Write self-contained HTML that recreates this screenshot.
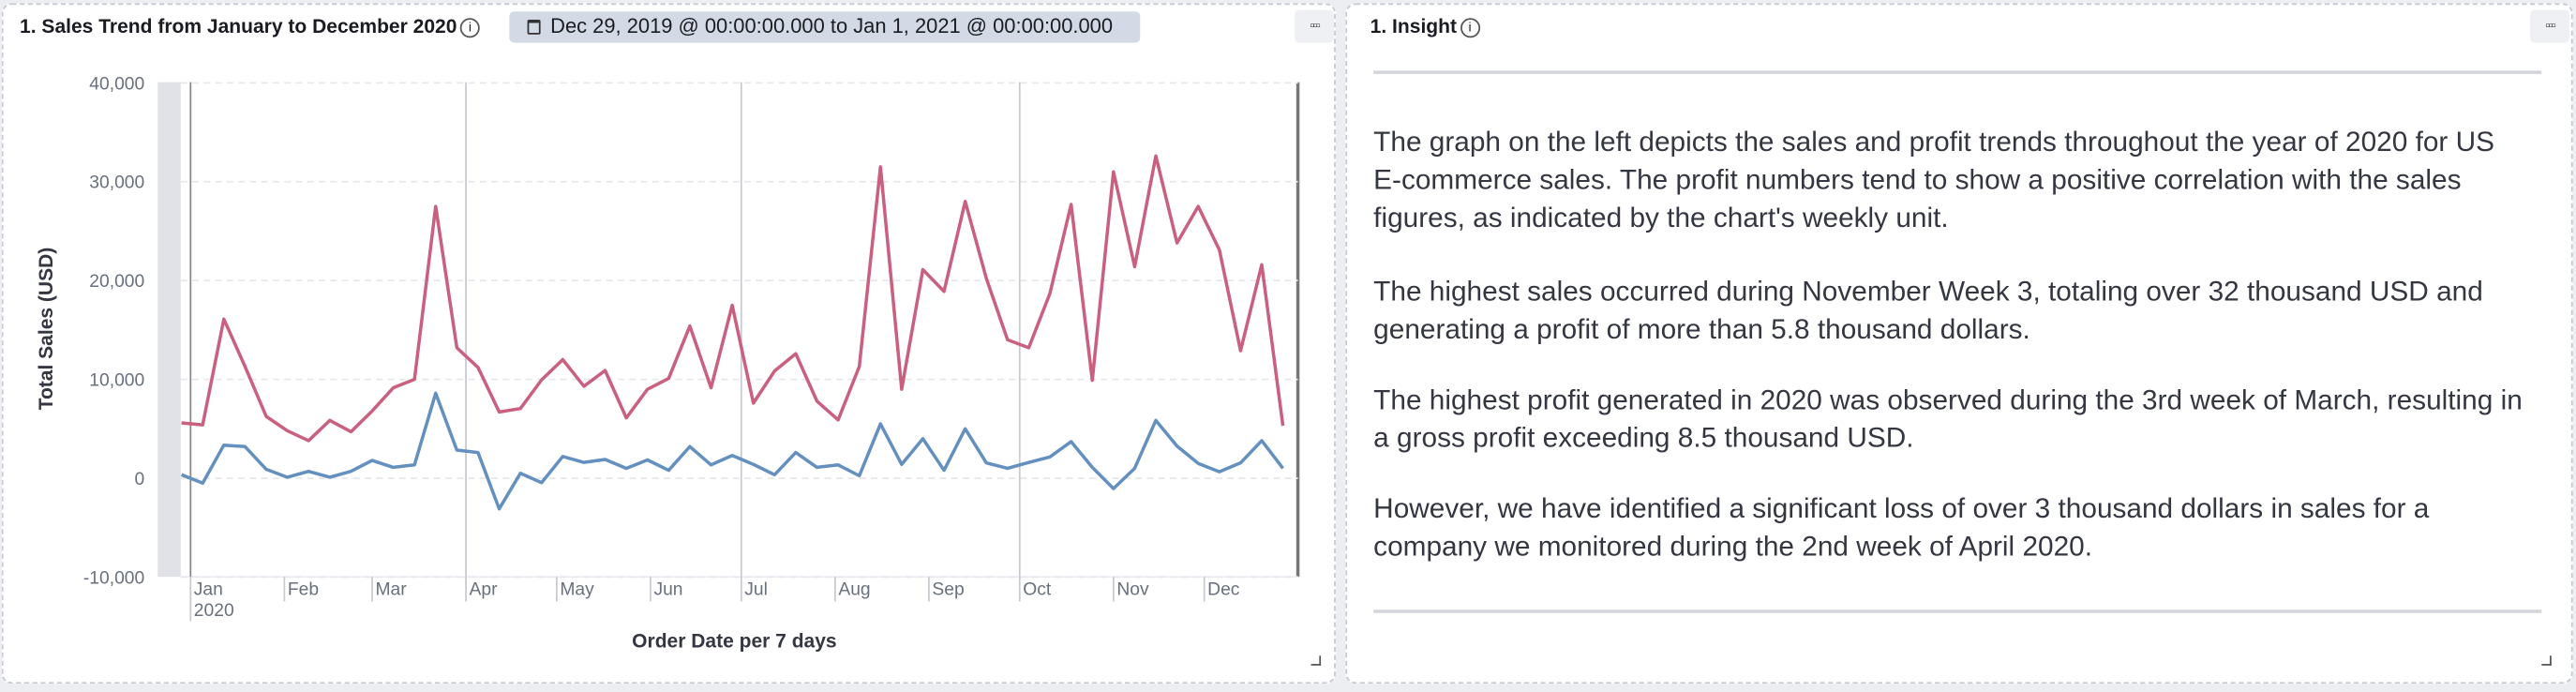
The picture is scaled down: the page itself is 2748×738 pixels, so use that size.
<!DOCTYPE html>
<html><head><meta charset="utf-8">
<style>
html,body{margin:0;padding:0;width:2748px;height:737px;overflow:hidden;background:#eceef2;}
#wrap{position:absolute;left:0;top:0;width:1568px;height:421px;transform:scale(1.7526);transform-origin:0 0;font-family:"Liberation Sans",sans-serif;}
.panel{position:absolute;background:#fff;border:1px dashed #c4c8d0;border-radius:6px;box-sizing:border-box;}
.title{position:absolute;font-weight:bold;font-size:12px;color:#1a1c21;white-space:nowrap;}
.info{display:inline-block;width:10px;height:10px;border:1px solid #555;border-radius:50%;font-size:8px;line-height:10px;text-align:center;font-weight:normal;margin-left:2px;vertical-align:1px;}
.menu{position:absolute;width:24px;height:20px;background:#eef0f3;border-radius:3px;font-size:8px;color:#333;text-align:center;line-height:20px;letter-spacing:-1px;}
.txt{position:absolute;left:16px;font-size:17px;color:#343741;line-height:23px;white-space:nowrap;}
.rule{position:absolute;left:16px;width:711px;height:2px;background:#d3d5da;}
.corner{position:absolute;width:5px;height:5px;border-right:1.5px solid #555;border-bottom:1.5px solid #555;}
.cal{display:inline-block;width:8px;height:9px;border:1px solid #333;border-top-width:2px;border-radius:1px;vertical-align:-1px;margin-right:6px;box-sizing:border-box;}
</style></head><body>
<div id="wrap">
<div class="panel" style="left:1px;top:2px;width:812px;height:414px;">
  <div class="title" style="left:10px;top:6px;">1. Sales Trend from January to December 2020<span class="info">i</span></div>
  <div style="position:absolute;left:308px;top:4px;width:384px;height:19px;background:#d3dae6;border-radius:3px;font-size:12.5px;line-height:19px;color:#1a1c21;white-space:nowrap;padding-left:11px;box-sizing:border-box;"><span class="cal"></span>Dec 29, 2019 @ 00:00:00.000 to Jan 1, 2021 @ 00:00:00.000</div>
  <div class="menu" style="left:786px;top:3px;">&#9643;&#9643;&#9643;</div>
  <div class="corner" style="left:796px;top:396px;"></div>
</div>
<div class="panel" style="left:819px;top:2px;width:747px;height:414px;">
  <div class="title" style="left:14px;top:6px;">1. Insight<span class="info">i</span></div>
  <div class="menu" style="left:720px;top:3px;">&#9643;&#9643;&#9643;</div>
  <div class="rule" style="top:40px;"></div>
  <div class="txt" style="top:72px;">The graph on the left depicts the sales and profit trends throughout the year of 2020 for US<br>E-commerce sales. The profit numbers tend to show a positive correlation with the sales<br>figures, as indicated by the chart's weekly unit.</div>
  <div class="txt" style="top:163px;">The highest sales occurred during November Week 3, totaling over 32 thousand USD and<br>generating a profit of more than 5.8 thousand dollars.</div>
  <div class="txt" style="top:229px;">The highest profit generated in 2020 was observed during the 3rd week of March, resulting in<br>a gross profit exceeding 8.5 thousand USD.</div>
  <div class="txt" style="top:295px;">However, we have identified a significant loss of over 3 thousand dollars in sales for a<br>company we monitored during the 2nd week of April 2020.</div>
  <div class="rule" style="top:368px;"></div>
  <div class="corner" style="left:727px;top:396px;"></div>
</div>
<svg id="chart" width="812" height="421" style="position:absolute;left:0;top:0;"></svg>
</div>
<script>
const sales = [5.6,5.4,16.1,11.3,6.25,4.8,3.8,5.85,4.7,6.8,9.15,10.0,27.5,13.2,11.2,6.7,7.05,9.95,12.0,9.3,10.9,6.1,9.0,10.1,15.4,9.15,17.5,7.6,10.85,12.6,7.8,5.9,11.3,31.5,9.0,21.1,18.9,28.0,20.2,14.0,13.2,18.7,27.7,9.9,31.0,21.4,32.6,23.8,27.5,23.1,12.9,21.6,5.3];
const profit = [0.35,-0.5,3.35,3.2,0.9,0.1,0.7,0.1,0.7,1.8,1.1,1.35,8.6,2.85,2.6,-3.1,0.5,-0.45,2.2,1.6,1.9,1.0,1.85,0.8,3.2,1.35,2.3,1.4,0.35,2.6,1.1,1.35,0.25,5.5,1.4,4.0,0.8,5.0,1.55,1.0,1.6,2.15,3.7,1.1,-1.05,1.0,5.85,3.25,1.5,0.65,1.55,3.8,1.0];
const yTicks = [40000,30000,20000,10000,0,-10000];
const monthLabels = ["Jan","Feb","Mar","Apr","May","Jun","Jul","Aug","Sep","Oct","Nov","Dec"];
const monthStartDays = [0,31,60,91,121,152,182,213,244,274,305,335];
const quarterMonths = [0,3,6,9];
const firstWeekOffset = -3;

const svg = document.getElementById('chart');
const NS = 'http://www.w3.org/2000/svg';
function y(v){ return 291 - (v/10000)*60.15; }
function x(day){ return 116 + day*1.8418; }
function mk(tag, attrs){ const e=document.createElementNS(NS,tag); for(const k in attrs) e.setAttribute(k,attrs[k]); svg.appendChild(e); return e; }

const band = mk('rect',{x:96,y:50,width:14,height:301,fill:'#e0e2e7'});


mk('line',{x1:790,y1:50,x2:790,y2:351,stroke:'#777','stroke-width':2});
mk('line',{x1:110,y1:351,x2:790,y2:351,stroke:'#eceef2','stroke-width':1});

yTicks.forEach(t=>{
  const g = mk('line',{x1:110,y1:y(t),x2:790,y2:y(t),stroke:'#e6e8ec','stroke-dasharray':'4,3'});
  
  
  const lab = mk('text',{x:88,y:y(t)+4,'text-anchor':'end','font-size':11,fill:'#69707d','font-family':'Liberation Sans, sans-serif'});
  lab.textContent = t.toLocaleString('en-US');
  
  
});

monthStartDays.forEach((d,i)=>{
  const xx = x(d);
  const isQ = quarterMonths.includes(i);
  if(isQ){
    const ql = mk('line',{x1:xx,y1:50,x2:xx,y2:351,stroke:i===0?'#888':'#c8cad0','stroke-width':1});
    
    
  }
  mk('line',{x1:xx,y1:351,x2:xx,y2:i===0?378:366,stroke:'#c8cad0','stroke-width':1});
  const lab = mk('text',{x:xx+2,y:362,'font-size':11,fill:'#69707d','font-family':'Liberation Sans, sans-serif'});
  lab.textContent = monthLabels[i];
  
  
});
const yr = mk('text',{x:x(0)+2,y:375,'font-size':11,fill:'#69707d','font-family':'Liberation Sans, sans-serif'});
yr.textContent='2020';



function drawLine(vals,color,name){
  const pts = vals.map((v,i)=> x(firstWeekOffset+7*i).toFixed(2)+','+y(v*1000).toFixed(2)).join(' ');
  const p = mk('polyline',{points:pts,fill:'none',stroke:color,'stroke-width':2,'stroke-linejoin':'round'});
  
  
}
drawLine(sales,'#c9607f','sales-line');
drawLine(profit,'#6490c0','profit-line');

const yt = mk('text',{x:0,y:0,'font-size':12,'font-weight':'bold',fill:'#343741','text-anchor':'middle',transform:'translate(32,200) rotate(-90)','font-family':'Liberation Sans, sans-serif'});
yt.textContent='Total Sales (USD)';


const xt = mk('text',{x:447,y:394,'font-size':12,'font-weight':'bold',fill:'#343741','text-anchor':'middle','font-family':'Liberation Sans, sans-serif'});
xt.textContent='Order Date per 7 days';


</script>
</body></html>
